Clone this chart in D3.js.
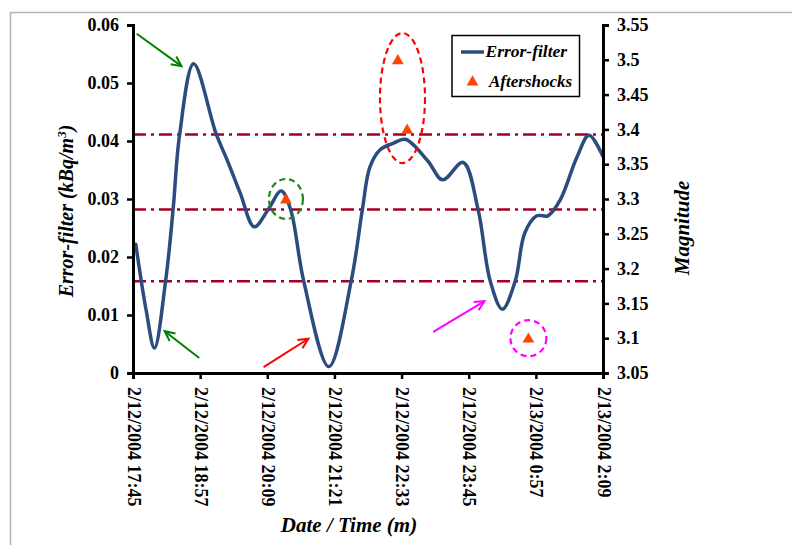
<!DOCTYPE html>
<html>
<head>
<meta charset="utf-8">
<script src="https://cdn.jsdelivr.net/npm/d3@7"></script>
<style>
  html, body { margin: 0; padding: 0; background: #fff; }
  svg { display: block; }
  text { font-family: "Liberation Serif", "Times New Roman", serif; font-weight: bold; }
</style>
</head>
<body>
<svg id="chart" width="792" height="545"></svg>
<script>
// ---- data ----
const times = [
  "2/12/2004 17:48","2/12/2004 17:59","2/12/2004 18:08","2/12/2004 18:20","2/12/2004 18:28",
  "2/12/2004 18:35","2/12/2004 18:50","2/12/2004 19:14","2/12/2004 19:26","2/12/2004 19:40",
  "2/12/2004 19:55","2/12/2004 20:10","2/12/2004 20:24","2/12/2004 20:34","2/12/2004 20:48",
  "2/12/2004 21:15","2/12/2004 21:39","2/12/2004 21:51","2/12/2004 21:59","2/12/2004 22:10",
  "2/12/2004 22:24","2/12/2004 22:37","2/12/2004 23:01","2/12/2004 23:17","2/12/2004 23:39",
  "2/12/2004 23:55","2/13/2004 0:08","2/13/2004 0:21","2/13/2004 0:35","2/13/2004 0:45",
  "2/13/2004 0:58","2/13/2004 1:10","2/13/2004 1:23","2/13/2004 1:41","2/13/2004 1:54",
  "2/13/2004 2:09"
];
const errorFilter = [
  0.0222,0.0109,0.0043,0.0159,0.0282,
  0.0411,0.0533,0.0413,0.0367,0.0310,
  0.0252,0.0282,0.0314,0.0282,0.0159,
  0.0011,0.0159,0.0282,0.0355,0.0385,
  0.0396,0.0403,0.0366,0.0333,0.0363,
  0.0282,0.0159,0.0110,0.0159,0.0241,
  0.0271,0.0271,0.0298,0.0372,0.0410,
  0.0373
];
const aftershockTimes = ["2/12/2004 20:29","2/12/2004 22:29","2/12/2004 22:39","2/13/2004 0:49"];
const aftershockMagnitudes = [3.3, 3.5, 3.4, 3.1];
const thresholds = [0.0411, 0.0282, 0.0158];
const leftTicks = [0, 0.01, 0.02, 0.03, 0.04, 0.05, 0.06];
const rightTicks = [3.05, 3.1, 3.15, 3.2, 3.25, 3.3, 3.35, 3.4, 3.45, 3.5, 3.55];
const xTickLabels = ["2/12/2004 17:45","2/12/2004 18:57","2/12/2004 20:09","2/12/2004 21:21",
  "2/12/2004 22:33","2/12/2004 23:45","2/13/2004 0:57","2/13/2004 2:09"];
// annotation arrows [fromTime, fromValue, toTime, toValue, color]
const arrows = [
  ["2/12/2004 17:49", 0.0585, "2/12/2004 18:37", 0.0529, "#008000"],
  ["2/12/2004 18:56", 0.0026, "2/12/2004 18:19", 0.0072, "#008000"],
  ["2/12/2004 20:05", 0.0010, "2/12/2004 20:53", 0.0059, "#ff0000"],
  ["2/12/2004 23:07", 0.0071, "2/13/2004 0:02", 0.0124, "#ff00ff"]
];
// annotation ellipses [centerTime, centerMagnitude, rx, ry, color]
const ellipses = [
  ["2/12/2004 20:29", 3.30, 17, 20, "#1a8c1a"],
  ["2/12/2004 22:34", 3.445, 22.5, 65, "#ff0000"],
  ["2/13/2004 0:49", 3.10, 18, 18, "#ff00ff"]
];

// ---- setup ----
const parse = d3.timeParse("%m/%d/%Y %H:%M");
const svg = d3.select("#chart");
const L = 133, R = 603, T = 25, B = 373;

svg.append("rect").attr("x", 10.5).attr("y", 12.5).attr("width", 900).attr("height", 700)
  .attr("fill", "none").attr("stroke", "#b4b4b4").attr("stroke-width", 1.5);

const x = d3.scaleTime().domain([parse(xTickLabels[0]), parse(xTickLabels[xTickLabels.length - 1])]).range([L, R]);
const y = d3.scaleLinear().domain([0, 0.06]).range([B, T]);
const y2 = d3.scaleLinear().domain([3.05, 3.55]).range([B, T]);

// thresholds
svg.append("g").selectAll("line").data(thresholds).join("line")
  .attr("x1", L).attr("x2", R)
  .attr("y1", d => y(d)).attr("y2", d => y(d))
  .attr("stroke", "#a50021").attr("stroke-width", 2.5)
  .attr("stroke-dasharray", "13,5,3,5");

// line
const pts = times.map((t, i) => [parse(t), errorFilter[i]]);
const line = d3.line().x(d => x(d[0])).y(d => y(d[1])).curve(d3.curveCatmullRom.alpha(0.5));
svg.append("path").datum(pts).attr("d", line)
  .attr("fill", "none").attr("stroke", "#2b4c7e").attr("stroke-width", 3.5)
  .attr("stroke-linejoin", "round").attr("stroke-linecap", "round");

// aftershocks
const tri = d3.symbol().type(d3.symbolTriangle).size(60);
svg.append("g").selectAll("path").data(aftershockTimes.map((t, i) => [parse(t), aftershockMagnitudes[i]]))
  .join("path").attr("d", tri)
  .attr("transform", d => `translate(${x(d[0])},${y2(d[1]) + 1})`)
  .attr("fill", "#ff4500");

// ellipses
svg.append("g").selectAll("ellipse").data(ellipses).join("ellipse")
  .attr("cx", d => x(parse(d[0]))).attr("cy", d => y2(d[1]))
  .attr("rx", d => d[2]).attr("ry", d => d[3])
  .attr("fill", "none").attr("stroke", d => d[4]).attr("stroke-width", 2.2)
  .attr("stroke-dasharray", "6,4");

// arrows
const ag = svg.append("g");
arrows.forEach(a => {
  const x1 = x(parse(a[0])), y1 = y(a[1]), x2 = x(parse(a[2])), y2p = y(a[3]);
  const ang = Math.atan2(y2p - y1, x2 - x1);
  const hl = 11, ha = Math.PI / 7;
  ag.append("line").attr("x1", x1).attr("y1", y1).attr("x2", x2).attr("y2", y2p)
    .attr("stroke", a[4]).attr("stroke-width", 2);
  ag.append("path")
    .attr("d", `M${x2 - hl * Math.cos(ang - ha)},${y2p - hl * Math.sin(ang - ha)}L${x2},${y2p}L${x2 - hl * Math.cos(ang + ha)},${y2p - hl * Math.sin(ang + ha)}`)
    .attr("fill", "none").attr("stroke", a[4]).attr("stroke-width", 2);
});

// axes
const styleAxis = g => {
  g.select(".domain").attr("stroke", "#000").attr("stroke-width", 3);
  g.selectAll(".tick line").attr("stroke", "#000").attr("stroke-width", 2.5);
  g.selectAll("text").attr("fill", "#000").style("font-size", "18px")
    .style("font-family", "'Liberation Serif', 'Times New Roman', serif").style("font-weight", "bold");
};
const fmt = d3.timeFormat("%-m/%-d/%Y %-H:%M");
const xAxis = svg.append("g").attr("transform", `translate(0,${B})`)
  .call(d3.axisBottom(x).tickValues(xTickLabels.map(parse)).tickFormat(fmt).tickSizeOuter(0).tickSize(6))
  .call(styleAxis);
xAxis.selectAll("text").attr("transform", "rotate(90)").attr("x", 14).attr("y", 0)
  .attr("dy", "0.33em").style("text-anchor", "start");

svg.append("g").attr("transform", `translate(${L},0)`)
  .call(d3.axisLeft(y).tickValues(leftTicks).tickFormat(d => d === 0 ? "0" : d3.format(".2f")(d)).tickSizeOuter(0).tickSize(6).tickPadding(8))
  .call(styleAxis);
svg.append("g").attr("transform", `translate(${R},0)`)
  .call(d3.axisRight(y2).tickValues(rightTicks).tickFormat(d => String(+d.toFixed(2))).tickSizeOuter(0).tickSize(6).tickPadding(8))
  .call(styleAxis);

// axis titles
const yt = svg.append("text").attr("transform", "translate(73,211) rotate(-90)")
  .attr("text-anchor", "middle").style("font-size", "20px").style("font-style", "italic");
yt.append("tspan").text("Error-filter (kBq/m");
yt.append("tspan").attr("baseline-shift", "super").style("font-size", "13px").text("3");
yt.append("tspan").text(")");
svg.append("text").attr("transform", "translate(689,228) rotate(-90)")
  .attr("text-anchor", "middle").style("font-size", "21px").style("font-style", "italic")
  .text("Magnitude");
svg.append("text").attr("x", 349).attr("y", 532)
  .attr("text-anchor", "middle").style("font-size", "21px").style("font-style", "italic")
  .text("Date / Time (m)");

// legend
const lg = svg.append("g");
lg.append("rect").attr("x", 452).attr("y", 35.5).attr("width", 127.5).attr("height", 61)
  .attr("fill", "#fff").attr("stroke", "#000").attr("stroke-width", 1.5);
lg.append("line").attr("x1", 461).attr("x2", 484).attr("y1", 52).attr("y2", 52)
  .attr("stroke", "#2b4c7e").attr("stroke-width", 3.5);
lg.append("text").attr("x", 485.5).attr("y", 57).style("font-size", "17.5px").style("font-style", "italic").text("Error-filter");
lg.append("path").attr("d", tri).attr("transform", "translate(472.5,82)").attr("fill", "#ff4500");
lg.append("text").attr("x", 489).attr("y", 87).style("font-size", "17px").style("font-style", "italic").text("Aftershocks");
</script>
</body>
</html>
